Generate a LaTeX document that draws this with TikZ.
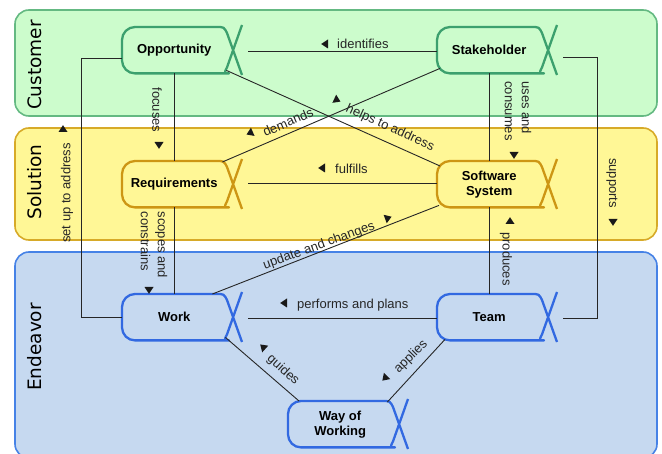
\documentclass[tikz,border=0pt]{standalone}
\usepackage{fontspec}
\setmainfont{Liberation Sans}
\newfontfamily\lanefont{DejaVu Sans}
\usetikzlibrary{calc}
\definecolor{cgF}{RGB}{204,252,204}
\definecolor{cgB}{RGB}{100,185,130}
\definecolor{cgN}{RGB}{60,160,110}
\definecolor{cyF}{RGB}{255,247,150}
\definecolor{cyB}{RGB}{215,170,40}
\definecolor{cyN}{RGB}{205,150,20}
\definecolor{cbF}{RGB}{198,217,240}
\definecolor{cbB}{RGB}{70,130,230}
\definecolor{cbN}{RGB}{50,105,225}
\tikzset{
  lbl/.style={font=\fontsize{13}{15}\selectfont, inner sep=0pt, text=black!85},
  ntext/.style={font=\bfseries\fontsize{13}{15}\selectfont, align=center, minimum width=104pt, minimum height=46pt, inner sep=0pt, anchor=north west},
  conn/.style={draw=black!85, line width=0.9pt},
  lanelbl/.style={rotate=90, font=\lanefont\fontsize{18.5}{20}\selectfont, inner sep=0pt},
  alphaline/.style={line width=2.3pt, line join=round},
  lanebox/.style={line width=1.6pt, rounded corners=14pt},
}
\newcommand\alphanode[5]{%
  \node[ntext] (#1) at (#2,#3) {#5};
  \draw[alphaline, draw=#4]
    ($(#1.north west)+(120,48)$) -- ($(#1.north west)+(105,6)$)
    .. controls ($(#1.north west)+(102,0)$) .. ($(#1.north west)+(94,0)$)
    [rounded corners=13pt] -- (#1.north west) -- (#1.south west) -- ($(#1.south west)+(94,0)$)
    [sharp corners] .. controls ($(#1.south west)+(102,0)$) .. ($(#1.south west)+(105,-6)$)
    -- ($(#1.north west)+(120,-2)$);
}
\newcommand\tri[3]{\fill[black!90, shift={(#1,#2)}, rotate=#3] (3.8pt,0pt) -- (-3pt,4.5pt) -- (-3pt,-4.5pt) -- cycle;}
\begin{document}
\begin{tikzpicture}[x=1pt,y=-1pt]
\useasboundingbox (0,0) rectangle (662,454);
\clip (0,0) rectangle (662,454);
% lanes
\draw[lanebox, fill=cgF, draw=cgB] (15,10) rectangle (657,116);
\draw[lanebox, fill=cyF, draw=cyB] (15,128) rectangle (657,240);
\draw[lanebox, fill=cbF, draw=cbB] (15,252) rectangle (657,458);
\node[lanelbl] (lc) at (35,65) {Customer};
\node[lanelbl] (ls) at (35,182) {Solution};
\node[lanelbl] (le) at (35,347) {Endeavor};
% alphas
\alphanode{opp}{122}{27}{cgN}{Opportunity}
\alphanode{stk}{437}{27}{cgN}{Stakeholder}
\alphanode{req}{122}{161}{cyN}{Requirements}
\alphanode{sw}{437}{161}{cyN}{Software\\System}
\alphanode{work}{122}{294}{cbN}{Work}
\alphanode{team}{437}{294}{cbN}{Team}
\alphanode{wow}{288}{401}{cbN}{Way of\\Working}
% connectors
\draw[conn] ($(opp.east)+(22,1)$) -- ($(stk.west)+(0,1)$);
\draw[conn] ($(req.east)+(22,-1)$) -- ($(sw.west)+(0,-1)$);
\draw[conn] ($(work.east)+(22,1)$) -- ($(team.west)+(0,1)$);
\draw[conn] (opp.south) -- (req.north);
\draw[conn] (req.south) -- (work.north);
\draw[conn] (stk.south) -- (sw.north);
\draw[conn] (team.north) -- (sw.south);
\draw[conn] (work.west) -- ++(-41,0) |- ($(opp.west)+(0,8)$);
\draw[conn] ($(stk.east)+(22,7)$) -- ++(34,0) |- ($(team.east)+(22,1)$);
\draw[conn] ($(opp.south east)+(0,-3)$) -- ($(sw.north west)+(3,5)$);
\draw[conn] ($(stk.south west)+(3,-5)$) -- ($(req.north east)+(-4,1)$);
\draw[conn] ($(work.north east)+(-14,0)$) -- ($(sw.south west)+(2,-2)$);
\draw[conn] ($(work.south east)+(-1,-3)$) -- ($(wow.north west)+(11,0)$);
\draw[conn] ($(team.south west)+(8,-1)$) -- ($(wow.north east)+(-5,1)$);
% labels
\tri{325}{44}{180}
\node[lbl, anchor=west] (lid) at (337,44) {identifies};
\tri{322}{168}{180}
\node[lbl, anchor=west] (lfu) at (335,169) {fulfills};
\tri{284}{303}{180}
\node[lbl, anchor=west] (lpp) at (297,305) {performs and plans};
\node[lbl, rotate=-90] (lfo) at (157,110) {focuses};
\tri{159}{145}{-90}
\node[lbl, rotate=-90, align=left, font=\fontsize{13}{17}\selectfont] (lsc) at (154,245) {scopes and\\constrains};
\tri{149}{290}{-90}
\node[lbl, rotate=90] (lsu) at (67,193) {set up to address};
\tri{63}{129}{90}
\node[lbl, rotate=-90, align=left, font=\fontsize{13}{17}\selectfont] (luc) at (518,111) {uses and\\consumes};
\tri{514}{155}{-90}
\node[lbl, rotate=-90] (lpr) at (506,259) {produces};
\tri{510}{221}{90}
\node[lbl, rotate=-90] (lsp) at (612,183) {supports};
\tri{613}{222}{-90}
\node[lbl, rotate=-24.6] (lhe) at (390,128) {helps to address};
\tri{337}{100}{-24.6}
\node[lbl, rotate=23.6] (lde) at (288,122) {demands};
\tri{250}{133}{203.6}
\node[lbl, rotate=20] (lup) at (319,246) {update and changes};
\tri{388}{218}{20}
\node[lbl, rotate=-42] (lgu) at (283,370) {guides};
\tri{263}{347}{138}
\node[lbl, rotate=45] (lap) at (411,357) {applies};
\tri{385}{378}{225}
\end{tikzpicture}
\end{document}
